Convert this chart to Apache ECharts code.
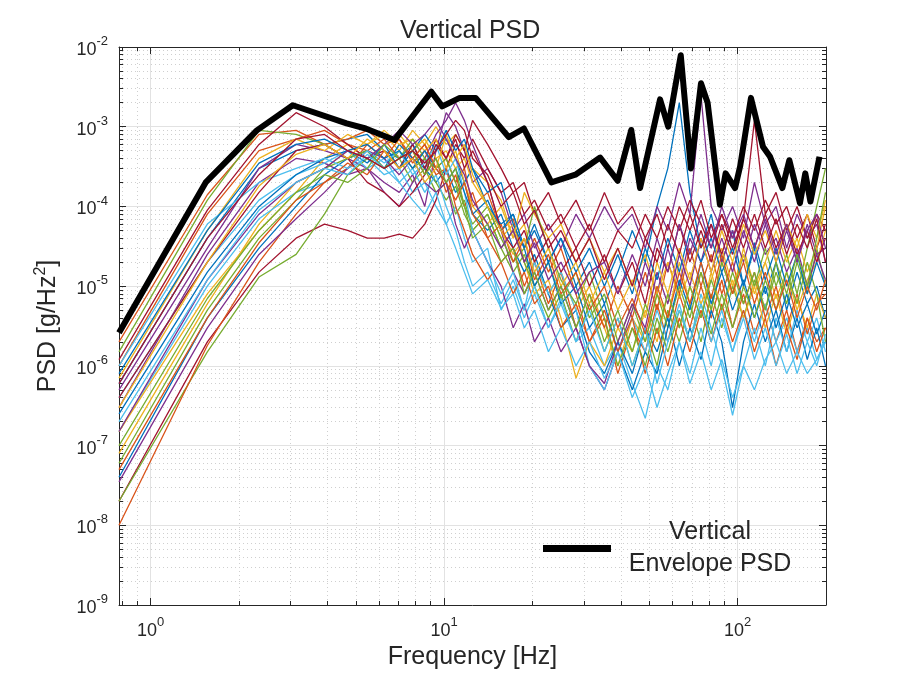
<!DOCTYPE html>
<html>
<head>
<meta charset="utf-8">
<script src="https://cdn.jsdelivr.net/npm/echarts@6/dist/echarts.min.js"></script>
<style>html,body{margin:0;padding:0;background:#fff}#c{width:906px;height:680px}</style>
</head>
<body>
<div id="c"></div>
<script>
const freq = [0.78,1.56,2.34,3.13,3.91,4.69,5.47,6.25,7.03,7.81,8.59,9.38,10.16,10.94,11.72,12.5,14.06,15.63,17.19,18.75,20.31,22.66,25,28.13,31.25,35.16,39.06,43.75,48.44,53.13,57.81,63.28,68.75,75,81.25,88.28,96.09,104.69,114.06,124.22,135.16,146.88,159.38,172.66,185.94,199.2];

const psd01 = [6e-7,4e-5,3e-4,5e-4,6e-4,7e-4,8e-4,5e-4,4e-4,6e-4,3e-4,5e-4,7e-4,4e-4,2e-4,3e-4,1e-4,6e-5,8e-5,3e-5,5e-5,2e-5,4e-5,1e-5,2e-5,6e-6,1.5e-5,5e-5,2e-5,1e-4,3e-4,2e-3,1.5e-4,3e-5,8e-5,2e-5,5e-5,1e-5,3e-5,8e-6,2e-5,5e-6,1.5e-5,6e-6,1e-5,4e-6];
const psd02 = [2e-6,1.4e-4,8e-4,9e-4,6e-4,7e-4,9e-4,6e-4,7e-4,4e-4,6e-4,3e-4,4e-4,2e-4,3e-4,1e-4,1.5e-4,5e-5,7e-5,2e-5,4e-5,1.5e-5,3e-5,8e-6,2e-6,4e-6,8e-7,3e-6,1.5e-6,6e-6,2e-6,8e-6,3e-6,1e-5,4e-6,1.2e-5,3e-6,8e-6,2.5e-6,6e-6,2e-6,5e-6,1.5e-6,4e-6,2e-6,3e-6];
const psd03 = [8e-8,6e-6,6e-5,2e-4,3e-4,5e-4,6e-4,8e-4,5e-4,9e-4,6e-4,1e-3,6e-4,8e-4,5e-4,3e-4,2e-4,1.2e-4,4e-5,6e-5,2e-5,8e-6,1.5e-5,5e-6,1e-5,3e-6,1e-6,4e-6,2e-6,8e-6,4e-6,2e-5,6e-6,1.5e-5,5e-6,2e-5,8e-6,3e-5,1e-5,2e-5,7e-6,1.5e-5,5e-6,1.2e-5,2e-5,5e-5];
const psd04 = [3e-7,2.5e-5,2e-4,4e-4,3.5e-4,2.5e-4,3e-4,2e-4,1.5e-4,2.5e-4,1e-4,5e-4,1.5e-3,1e-3,5e-4,2e-4,3e-4,1.5e-4,5e-5,8e-5,3e-5,6e-5,3e-5,8e-5,4e-5,1e-4,5e-5,8e-5,3e-5,1e-4,5e-5,2e-4,8e-5,2.5e-3,1e-4,5e-5,1e-4,4e-5,2e-4,6e-5,1e-4,3e-5,8e-5,4e-5,6e-5,2e-5];
const psd05 = [1.5e-6,1.2e-4,9e-4,8e-4,6e-4,4e-4,5e-4,3e-4,4e-4,2e-4,3e-4,1.5e-4,2e-4,8e-5,1.2e-4,5e-5,8e-5,3e-5,1.5e-5,2.5e-5,1e-5,4e-6,8e-6,2e-6,6e-6,1.5e-6,4e-6,1e-6,3e-6,1e-6,5e-6,2e-6,6e-6,2e-6,8e-6,3e-6,1e-5,4e-6,1.2e-5,5e-6,1.5e-5,6e-6,2e-5,8e-6,3e-5,1e-5];
const psd06 = [1.5e-7,1e-5,7e-5,1.5e-4,2e-4,3e-4,4e-4,2.5e-4,3e-4,1.5e-4,2e-4,1e-4,6e-5,1e-4,4e-5,2e-5,3e-5,5e-6,1e-5,4e-6,8e-6,3e-6,6e-6,2e-6,3e-6,1e-6,2e-6,6e-7,2.2e-7,1e-6,5e-7,2e-6,8e-7,3e-6,1e-6,4e-6,1.5e-6,5e-6,2e-6,6e-6,2e-6,4e-6,1.5e-6,3e-6,1.2e-6,2e-6];
const psd07 = [2e-8,2e-6,1.5e-5,4e-5,6e-5,5e-5,4e-5,4e-5,4.5e-5,4e-5,6e-5,1.2e-4,3e-4,6e-4,4e-4,7e-4,3e-4,1.5e-4,2e-4,8e-5,1.2e-4,5e-5,8e-5,3e-5,6e-5,2e-5,5e-5,3e-5,8e-5,4e-5,1e-4,5e-5,1.2e-4,6e-5,3e-5,8e-5,4e-5,1e-4,5e-5,1.2e-4,6e-5,1e-4,4e-5,8e-5,3e-5,6e-5];
const psd08 = [4e-8,4e-6,3e-5,1e-4,2.5e-4,4e-4,5e-4,3e-4,6e-4,4e-4,3e-4,2e-4,3e-4,1.5e-4,2e-4,8e-5,5e-5,8e-5,3e-5,1.5e-5,2.5e-5,8e-6,3e-6,5e-6,1.5e-6,8e-7,2e-6,8e-7,3e-6,1.5e-6,4e-6,1e-6,3e-6,1.2e-6,5e-6,2e-6,3e-7,2e-6,6e-6,2e-6,5e-6,1.5e-6,4e-6,1.2e-6,3e-6,1e-6];
const psd09 = [1e-6,8e-5,5e-4,7e-4,9e-4,6e-4,5e-4,7e-4,4e-4,5e-4,2.5e-4,4e-4,1.5e-4,2.5e-4,1e-4,1.5e-4,4e-5,2e-5,3e-5,1e-5,2e-5,6e-6,1.5e-5,3e-6,8e-6,3e-6,1e-5,4e-6,1.5e-5,5e-6,2e-5,8e-6,3e-5,1e-5,2.5e-5,8e-6,2e-5,6e-6,1.5e-5,4e-6,1e-5,3e-6,8e-6,2.5e-6,6e-6,8e-6];
const psd10 = [1.5e-7,8e-6,5e-5,1.5e-4,4e-4,6e-4,4e-4,6e-4,8e-4,5e-4,7e-4,4e-4,5e-4,3e-4,4e-4,2e-4,1e-4,4e-5,6e-5,2e-5,8e-6,1.2e-5,4e-6,7e-7,2e-6,1e-6,3e-6,1.5e-6,5e-6,2e-6,8e-6,3e-6,1e-5,4e-6,1.5e-5,5e-6,1.2e-5,4e-6,1e-5,3e-6,8e-6,2.5e-6,7e-6,3e-6,8e-6,4e-6];
const psd11 = [5e-7,3e-5,3e-4,6e-4,5e-4,4e-4,3e-4,1.5e-4,1e-4,2e-4,4e-4,8e-4,1.2e-3,2e-3,1.2e-3,6e-4,2e-4,5e-5,1.5e-5,8e-6,1.5e-5,5e-6,1e-5,3e-6,1e-6,5e-7,1.5e-6,5e-6,2e-5,8e-6,3e-5,1e-5,4e-5,2e-5,6e-5,2e-5,5e-5,2e-5,6e-5,2.5e-5,4e-5,1.5e-5,3e-5,1e-5,2.5e-5,1.2e-5];
const psd12 = [2e-8,1.5e-6,1.3e-5,2.5e-5,8e-5,2.5e-4,4e-4,3e-4,5e-4,3e-4,4e-4,2e-4,1.2e-4,1.8e-4,8e-5,5e-5,8e-5,3e-5,5e-5,2e-5,1e-5,2e-5,7e-6,1.5e-5,4e-6,8e-6,2e-6,6e-6,2e-6,8e-6,3e-6,1e-5,4e-6,1.5e-5,5e-6,2e-5,8e-6,2.5e-5,1e-5,3e-5,1e-5,2.5e-5,8e-6,3e-5,1e-4,3e-4];
const psd13 = [4e-7,2e-5,1.2e-4,2.5e-4,3.5e-4,5e-4,3e-4,4e-4,2e-4,3e-4,1.5e-4,2.5e-4,1e-4,5e-5,2e-5,1e-5,1.5e-5,6e-6,1.2e-5,5e-6,2e-5,8e-6,1.5e-5,5e-6,1e-6,5e-7,1.5e-6,4e-6,1.5e-6,5e-6,2e-6,6e-6,2e-6,8e-6,3e-6,1e-6,2.4e-7,1e-6,3e-6,1e-6,4e-6,1.5e-6,5e-6,2e-6,4e-6,1.5e-6];
const psd14 = [1.2e-6,9e-5,6e-4,1.5e-3,1e-3,6e-4,4e-4,5e-4,3e-4,6e-4,3e-4,7e-4,4e-4,8e-4,5e-4,1.2e-3,6e-4,3e-4,1.5e-4,2e-4,8e-5,1.5e-4,6e-5,1.2e-4,5e-5,1.5e-4,6e-5,1e-4,4e-5,8e-5,3e-5,1e-4,5e-5,1.2e-4,4e-5,8e-5,3e-5,7e-5,1.2e-3,8e-5,1.5e-4,5e-5,1e-4,4e-5,8e-5,5e-5];
const psd15 = [2.5e-7,1.5e-5,1e-4,2.5e-4,4e-4,5e-4,3.5e-4,6e-4,3e-4,5e-4,8e-4,5e-4,9e-4,5e-4,7e-4,3e-4,1.5e-4,2e-4,6e-5,3e-5,1e-5,2e-5,6e-6,1e-5,3e-6,6e-6,1.5e-6,5e-7,1.5e-6,8e-7,3e-6,1.2e-5,5e-6,2e-5,6e-6,1.5e-5,5e-6,1.2e-5,4e-6,1e-5,3e-6,8e-6,3e-6,6e-6,2.5e-6,5e-6];
const psd16 = [1e-8,1.8e-6,2e-5,8e-5,2e-4,3e-4,6e-4,4e-4,7e-4,3.5e-4,5e-4,2.5e-4,3e-4,1e-4,5e-5,2.5e-5,1.2e-5,2e-5,8e-6,1.5e-5,6e-6,1e-5,3e-6,6e-6,2e-6,5e-6,1.5e-6,4e-6,8e-7,3e-6,1e-6,4e-6,1.5e-6,5e-6,2e-6,6e-6,2e-6,5e-6,1.5e-6,4e-6,1e-6,3e-6,1.2e-6,4e-6,1.5e-6,3e-6];
const psd17 = [7e-7,5e-5,4e-4,7e-4,5e-4,8e-4,6e-4,9e-4,6e-4,7e-4,5e-4,7e-4,3e-4,5e-4,2e-4,1e-4,6e-5,1e-4,4e-5,1.5e-4,8e-5,4e-5,6e-5,2e-5,4e-5,1.5e-5,3e-5,1e-5,2.5e-5,8e-6,2e-5,7e-6,1.5e-5,6e-6,1.2e-5,3e-5,1e-5,2.5e-5,8e-6,2e-5,5e-5,2e-5,4e-5,1.5e-5,3e-5,1e-4];
const psd18 = [3.5e-8,3e-6,2.5e-5,7e-5,1.5e-4,3e-4,5e-4,4e-4,2.5e-4,4e-4,2e-4,1.5e-4,2e-4,6e-5,3e-5,5e-5,2e-5,1e-5,3e-6,6e-6,2e-6,4e-6,1.5e-6,3e-6,1e-6,6e-7,2e-6,6e-6,3e-6,1.5e-5,6e-6,2.5e-5,1e-5,4e-5,1.5e-5,4e-5,1.5e-5,5e-5,2e-5,6e-5,2e-5,5e-5,2e-5,6e-5,2.5e-5,3e-5];
const psd19 = [6e-8,5e-6,4e-5,1.2e-4,3e-4,4e-4,5e-4,3e-4,4e-4,7e-4,4e-4,3e-4,4e-4,2e-4,1e-4,6e-5,1e-4,4e-5,2e-5,3e-5,1e-4,3e-5,1.2e-5,6e-6,1.5e-5,4e-6,1e-6,3e-6,1e-6,4e-6,1.5e-6,5e-6,2e-6,6e-6,2.5e-6,8e-6,3e-6,1e-5,4e-6,1.2e-5,5e-6,1.5e-5,6e-6,2e-5,8e-6,2e-6];
const psd20 = [1e-6,6e-5,2e-4,3e-4,4e-4,3e-4,5e-4,3.5e-4,5e-4,2.5e-4,3.5e-4,6e-4,2.5e-4,4e-4,1.5e-4,5e-5,2e-5,8e-6,1.5e-5,5e-6,1e-5,3e-6,7e-6,2e-6,5e-6,1.5e-6,4e-6,1e-6,3e-6,6e-7,2e-6,5e-6,2e-6,6e-6,2e-6,5e-6,1.5e-6,4e-6,1.2e-6,3e-6,1e-6,2.5e-6,8e-7,2e-6,1e-6,2.5e-6];
const psd21 = [4e-7,2e-5,1.5e-4,5e-4,6e-4,4e-4,2e-4,1.5e-4,1e-4,1.5e-4,2.5e-4,6e-4,4e-4,7e-4,3e-4,5e-4,2e-4,5e-5,3e-5,5e-5,2e-5,4e-5,1.5e-5,3e-5,1e-5,2.5e-5,8e-6,2e-5,6e-6,3e-5,1.5e-5,6e-5,2e-5,5e-5,2e-5,6e-5,2.5e-5,7e-5,3e-5,8e-5,3e-5,6e-5,2.5e-5,5e-5,2e-5,4e-5];
const psd22 = [8e-7,5e-5,3.5e-4,6e-4,7e-4,5e-4,6e-4,4e-4,5e-4,3e-4,5e-4,3e-4,2e-4,3e-4,1.5e-4,8e-5,1.2e-4,5e-5,8e-5,3e-5,6e-5,2e-5,4e-5,1.5e-5,3e-5,1e-5,2.5e-5,8e-6,3e-5,1.2e-5,4e-5,1.5e-5,5e-5,2e-5,4e-5,1.5e-5,3e-5,1e-5,3.5e-5,1.2e-5,3e-5,1e-5,2.5e-5,8e-6,2e-5,1e-5];
const psd23 = [5e-8,4e-6,3.5e-5,1.2e-4,2e-4,3.5e-4,2.5e-4,5e-4,3e-4,4e-4,6e-4,3e-4,2e-4,1.2e-4,2e-4,8e-5,4e-5,6e-5,2e-5,4e-5,1.2e-5,2.5e-5,8e-6,1.5e-5,5e-6,1e-5,3e-6,7e-6,2.5e-6,1e-5,4e-6,1.5e-5,6e-6,2e-5,7e-6,2.5e-5,8e-6,2e-5,6e-6,1.5e-5,5e-6,1.2e-5,4e-6,1e-5,5e-6,1.2e-5];
const psd24 = [3e-7,2e-5,1.8e-4,4.5e-4,6e-4,4e-4,7e-4,5e-4,3e-4,4e-4,2e-4,3e-4,8e-4,4e-4,6e-4,2.5e-4,1e-4,5e-5,2.5e-5,4e-5,1.5e-5,3e-5,1e-5,2e-5,6e-6,1.5e-5,5e-6,1.2e-5,4e-6,2e-5,8e-6,3e-5,1.2e-5,4e-5,1.5e-5,5e-5,2e-5,6e-5,2.5e-5,5e-5,2e-5,6e-5,3e-5,8e-5,4e-5,1.2e-4];
const psd25 = [1.5e-7,1.2e-5,8e-5,2e-4,3e-4,5e-4,4e-4,6e-4,9e-4,6e-4,8e-4,1.2e-3,7e-4,4e-4,2.5e-4,1.2e-4,6e-5,3e-5,5e-5,2e-5,3.5e-5,1.2e-5,2e-5,8e-6,1.5e-5,2e-5,8e-6,2.5e-5,1e-5,4e-5,1.5e-5,6e-5,2.5e-5,8e-5,3e-5,1e-4,4e-5,8e-5,3e-5,7e-5,2.5e-5,6e-5,2e-5,5e-5,8e-5,3e-5];
const psd26 = [1e-7,7e-6,5e-5,1.5e-4,2.5e-4,2e-4,3e-4,6e-4,4e-4,5e-4,2.5e-4,4e-4,2e-4,3e-4,1e-4,4e-5,6e-5,2e-5,3e-5,8e-6,1.5e-5,5e-6,1e-5,3e-6,8e-6,2e-6,5e-6,1.5e-6,6e-6,2.5e-6,8e-6,3e-6,1e-5,4e-6,1.2e-5,5e-6,1.5e-5,6e-6,1.5e-5,5e-6,2e-5,8e-6,2.5e-5,1e-5,4e-5,1.5e-4];
const psd27 = [2e-7,1.2e-5,9e-5,2e-4,3e-4,2.5e-4,4.5e-4,3e-4,2e-4,1.2e-4,8e-5,1.5e-4,6e-5,3e-5,1.5e-5,8e-6,1.2e-5,5.3e-6,8e-6,3e-6,5e-6,1.5e-6,3e-6,1e-6,2e-6,7e-7,1.5e-6,4e-7,1e-6,3e-7,8e-7,2e-6,6e-7,1.5e-6,5e-7,1.2e-6,4e-7,1e-6,5e-7,1.2e-6,2e-6,8e-7,1.5e-6,8e-7,1.2e-6,2e-6];
const psd28 = [6e-7,4e-5,2.5e-4,7e-4,8e-4,5e-4,4e-4,3e-4,4e-4,5e-4,3.5e-4,5e-4,8e-4,1.2e-3,9e-4,4e-4,2.5e-4,1e-4,1.5e-4,6e-5,9e-5,3e-5,5e-5,2e-5,4e-5,1.2e-5,3e-5,1e-5,4e-5,2e-5,6e-5,2.5e-5,8e-5,3e-5,6e-5,2.5e-5,7e-5,3e-5,8e-5,3e-5,7e-5,2.5e-5,6e-5,3e-5,7e-5,2e-5];

const envFreq = [0.78,1.54,2.3,3.05,4.65,5.4,6.77,9.04,9.85,11.3,12.8,16.6,18.7,23.2,28,34,39,43.4,46.5,54.4,58,64,69.3,75,79,87,91,98,102,111,122,129,142,150,163,170,177,190];
const envPsd = [2.6e-6,2e-4,9e-4,1.86e-3,1.1e-3,9.5e-4,6.8e-4,2.75e-3,1.8e-3,2.3e-3,2.3e-3,7.4e-4,9.5e-4,2e-4,2.5e-4,4.1e-4,2.1e-4,9.1e-4,1.7e-4,2.2e-3,1e-3,7.9e-3,3e-4,3.5e-3,2e-3,1.05e-4,2.6e-4,1.7e-4,3.2e-4,2.3e-3,5.6e-4,4.2e-4,1.7e-4,3.8e-4,1.1e-4,2.6e-4,1.15e-4,4.2e-4];

const lineColors = ['#0072BD','#D95319','#EDB120','#7E2F8E','#77AC30','#4DBEEE','#A2142F'];
const allLines = [psd01,psd02,psd03,psd04,psd05,psd06,psd07,psd08,psd09,psd10,psd11,psd12,psd13,psd14,psd15,psd16,psd17,psd18,psd19,psd20,psd21,psd22,psd23,psd24,psd25,psd26,psd27,psd28];

const FONT = 'Liberation Sans, Arial, Helvetica, sans-serif';
const TXT = '#262626';

function supLabel(v){
  const e = Math.round(Math.log10(v));
  return '{b|10}{s|' + e + '}';
}
const tickRich = {
  b:{fontSize:18,lineHeight:24,verticalAlign:'bottom',color:TXT,fontFamily:FONT},
  s:{fontSize:13,lineHeight:12,verticalAlign:'top',color:TXT,fontFamily:FONT}
};

const series = allLines.map((arr,i)=>({
  type:'line', name:'psd'+(i+1), xAxisIndex:0, yAxisIndex:0,
  data: freq.map((f,j)=>[f,arr[j]]),
  showSymbol:false, symbol:'none', silent:true,
  lineStyle:{width:1.3,color:lineColors[i%7]}, itemStyle:{color:lineColors[i%7]},
  z:2
}));
series.push({
  type:'line', name:'Vertical Envelope PSD', xAxisIndex:0, yAxisIndex:0,
  data: envFreq.map((f,j)=>[f,envPsd[j]]),
  showSymbol:false, symbol:'none', silent:true,
  lineStyle:{width:6,color:'#000',join:'round'}, itemStyle:{color:'#000'},
  z:5
});

const chart = echarts.init(document.getElementById('c'));
chart.setOption({
  animation:false,
  backgroundColor:'#fff',
  title:{text:'Vertical PSD', left:395, top:14, textStyle:{fontSize:25,fontWeight:'normal',color:TXT,fontFamily:FONT}},
  grid:{left:119, right:80, top:47, bottom:75, containLabel:false},
  legend:{
    left:538, top:515, itemWidth:68, itemHeight:7, selectedMode:false,
    data:[{name:'Vertical Envelope PSD', icon:'rect'}],
    formatter:()=>'{t|Vertical}\n{t|Envelope PSD}',
    textStyle:{rich:{t:{fontSize:25,lineHeight:32,width:188,align:'center',color:TXT,fontFamily:FONT}}}
  },
  xAxis:[
    {type:'log', logBase:10, min:0.78, max:200, position:'bottom',
     name:'Frequency [Hz]', nameLocation:'middle', nameGap:39,
     nameTextStyle:{fontSize:25,color:TXT,fontFamily:FONT},
     axisLine:{show:true,lineStyle:{color:TXT,width:1}},
     axisTick:{show:true,inside:true,length:7,lineStyle:{color:TXT}},
     minorTick:{show:true,splitNumber:9,length:4,lineStyle:{color:TXT}},
     axisLabel:{show:true,margin:11,showMinLabel:false,showMaxLabel:false,formatter:supLabel,rich:tickRich},
     splitLine:{show:true,lineStyle:{color:'#e2e2e2',width:1}},
     minorSplitLine:{show:true,lineStyle:{color:'#cfcfcf',width:1,type:[1,3]}}
    },
    {type:'log', logBase:10, min:0.78, max:200, position:'top',
     axisLine:{show:true,lineStyle:{color:TXT,width:1}},
     axisTick:{show:true,inside:true,length:7,lineStyle:{color:TXT}},
     minorTick:{show:true,splitNumber:9,length:4,lineStyle:{color:TXT}},
     axisLabel:{show:false}, splitLine:{show:false}
    }
  ],
  yAxis:[
    {type:'log', logBase:10, min:1e-9, max:1e-2, position:'left',
     name:'PSD [g/Hz{s|2}]', nameLocation:'middle', nameGap:56, nameRotate:90,
     nameTextStyle:{fontSize:25,lineHeight:30,color:TXT,fontFamily:FONT,
       rich:{s:{fontSize:16,lineHeight:14,verticalAlign:'top',color:TXT,fontFamily:FONT}}},
     axisLine:{show:true,lineStyle:{color:TXT,width:1}},
     axisTick:{show:true,inside:true,length:7,lineStyle:{color:TXT}},
     minorTick:{show:true,splitNumber:9,length:4,lineStyle:{color:TXT}},
     axisLabel:{show:true,margin:11,formatter:supLabel,rich:tickRich},
     splitLine:{show:true,lineStyle:{color:'#e2e2e2',width:1}},
     minorSplitLine:{show:true,lineStyle:{color:'#cfcfcf',width:1,type:[1,3]}}
    },
    {type:'log', logBase:10, min:1e-9, max:1e-2, position:'right',
     axisLine:{show:true,lineStyle:{color:TXT,width:1}},
     axisTick:{show:true,inside:true,length:7,lineStyle:{color:TXT}},
     minorTick:{show:true,splitNumber:9,length:4,lineStyle:{color:TXT}},
     axisLabel:{show:false}, splitLine:{show:false}
    }
  ],
  series: series
});
</script>
</body>
</html>
